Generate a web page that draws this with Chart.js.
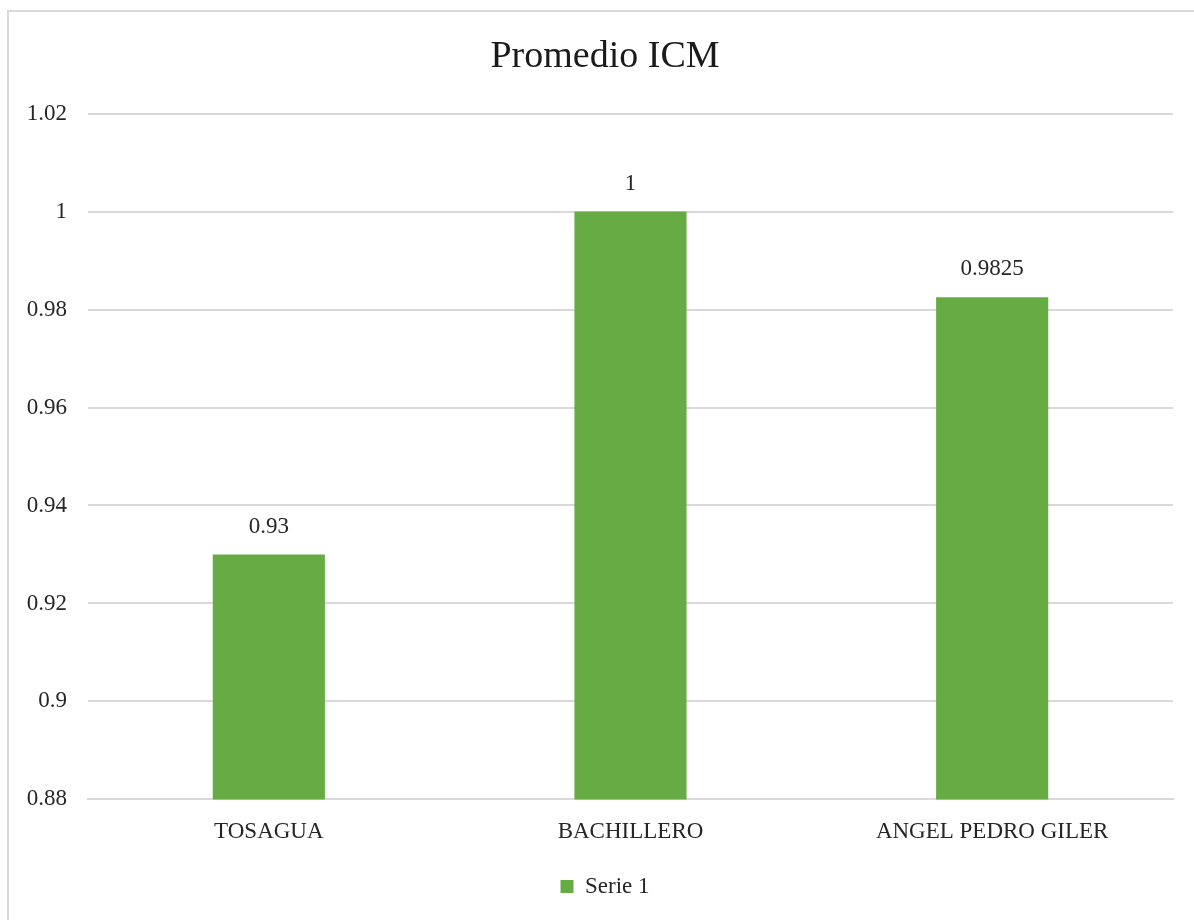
<!DOCTYPE html>
<html>
<head>
<meta charset="utf-8">
<script src="https://cdn.jsdelivr.net/npm/chart.js@4/dist/chart.umd.min.js"></script>
<style>
  html, body { margin: 0; padding: 0; background: #fff; }
  #frame {
    position: absolute; left: 7px; top: 10px; width: 1200px; height: 920px;
    border-left: 2px solid #d9d9d9; border-top: 2px solid #d9d9d9;
  }
  #wrap { position: absolute; left: 0; top: 0; width: 1194px; height: 920px; }
</style>
</head>
<body>
<div id="frame"></div>
<div id="wrap"><canvas id="icmChart" width="1194" height="920"></canvas></div>
<script>
// data
const categories = ["TOSAGUA", "BACHILLERO", "ANGEL PEDRO GILER"];
const serie1 = [0.93, 1, 0.9825];
const yTicks = [0.88, 0.9, 0.92, 0.94, 0.96, 0.98, 1, 1.02];

const fontFam = "'Liberation Serif', 'DejaVu Serif', serif";
const textColor = "#262626";
const gridColor = "#d9d9d9";

// draws the value above each bar
const valueLabels = {
  id: "valueLabels",
  afterLayout(chart) {
    // y labels sit a bit left of the narrow axis box, don't clip them
    chart.scales.y._computeLabelArea = function () {};
  },
  afterDatasetsDraw(chart) {
    const ctx = chart.ctx;
    const meta = chart.getDatasetMeta(0);
    ctx.save();
    ctx.font = "23px " + fontFam;
    ctx.fillStyle = textColor;
    ctx.textAlign = "center";
    ctx.textBaseline = "middle";
    meta.data.forEach(function (bar, i) {
      ctx.fillText(String(serie1[i]), bar.x, bar.y - 28);
    });
    ctx.restore();
  },
};

Chart.defaults.font.family = fontFam;
Chart.defaults.color = textColor;

const icmChart = new Chart(document.getElementById("icmChart"), {
  type: "bar",
  data: {
    labels: categories,
    datasets: [
      {
        label: "Serie 1",
        data: serie1,
        backgroundColor: "#66ab44",
        borderWidth: 0,
        barPercentage: 0.31,
        categoryPercentage: 1,
      },
    ],
  },
  options: {
    responsive: false,
    animation: false,
    layout: { padding: { left: 37, right: 21, top: 10, bottom: 12 } },
    plugins: {
      title: {
        display: true,
        text: "Promedio ICM",
        color: "#1a1a1a",
        font: { size: 38, weight: "normal" },
        padding: { top: 24, bottom: 34 },
      },
      legend: {
        display: true,
        position: "bottom",
        labels: {
          boxWidth: 13,
          boxHeight: 13,
          font: { size: 23 },
          color: textColor,
          padding: 18,
        },
      },
      tooltip: { enabled: false },
    },
    scales: {
      x: {
        grid: { display: false },
        border: { color: gridColor, width: 2 },
        ticks: { font: { size: 23 }, color: textColor, padding: 11 },
      },
      y: {
        min: 0.88,
        max: 1.02,
        afterFit: function (axis) { axis.width = 51; },
        afterBuildTicks: function (axis) {
          axis.ticks = yTicks.map(function (v) { return { value: v }; });
        },
        grid: { color: gridColor, lineWidth: 2, drawTicks: false },
        border: { display: false },
        ticks: {
          font: { size: 23 },
          color: textColor,
          padding: 21,
          callback: function (v) { return String(Math.round(v * 100) / 100); },
        },
      },
    },
  },
  plugins: [valueLabels],
});
</script>
</body>
</html>
